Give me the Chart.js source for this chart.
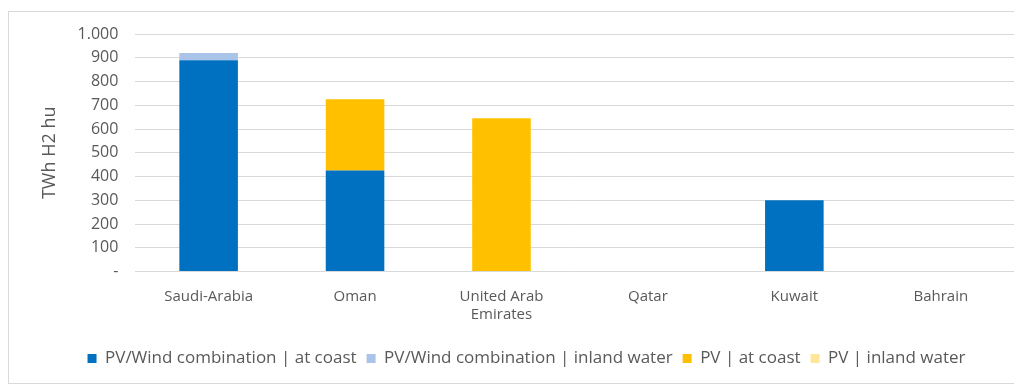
<!DOCTYPE html>
<html>
<head>
<meta charset="utf-8">
<script src="https://cdn.jsdelivr.net/npm/chart.js@4"></script>
<style>
  body { margin: 0; background: #fff; }
  #wrap { position: relative; width: 1014px; height: 384px; }
  #frame { position: absolute; left: 8px; top: 11px; width: 1010px; height: 371px; border: 1px solid #d9d9d9; pointer-events: none; }
</style>
</head>
<body>
<div id="wrap">
  <canvas id="myChart" width="1014" height="384"></canvas>
  <div id="frame"></div>
</div>
<script>
// categories and series
var countries = ['Saudi-Arabia', 'Oman', ['United Arab', 'Emirates'], 'Qatar', 'Kuwait', 'Bahrain']
var windCoast = [890, 425, 0, 0, 300, 0]
var windInland = [30, 0, 0, 0, 0, 0]
var pvCoast = [0, 300, 645, 0, 0, 0]
var pvInland = [0, 0, 0, 0, 0, 0]

var textColor = '#595959'
var font = 'Open Sans'

function thousands(v) {
  if (v === 0) return '-'
  return v.toString().replace(/\B(?=(\d{3})+(?!\d))/g, '.')
}

var ctx = document.getElementById('myChart').getContext('2d')
var chart = new Chart(ctx, {
  type: 'bar',
  data: {
    labels: countries,
    datasets: [
      { label: 'PV/Wind combination | at coast', data: windCoast, backgroundColor: '#0070C0' },
      { label: 'PV/Wind combination | inland water', data: windInland, backgroundColor: '#A9C4E8' },
      { label: 'PV | at coast', data: pvCoast, backgroundColor: '#FFC000' },
      { label: 'PV | inland water', data: pvInland, backgroundColor: '#FFE699' }
    ]
  },
  options: {
    responsive: false,
    animation: false,
    layout: { padding: { left: 39, top: 34, right: 0, bottom: 7 } },
    datasets: { bar: { categoryPercentage: 1, barPercentage: 0.4 } },
    scales: {
      x: {
        stacked: true,
        grid: { display: false },
        border: { display: false },
        ticks: { color: textColor, font: { family: font, size: 15 }, padding: 8, maxRotation: 0 }
      },
      y: {
        stacked: true,
        min: 0,
        max: 1000,
        grid: { color: '#d9d9d9', drawTicks: false },
        border: { display: false },
        ticks: { stepSize: 100, color: textColor, font: { family: font, size: 16 }, padding: 17, callback: thousands },
        title: { display: true, text: 'TWh H2 hu', color: textColor, font: { family: font, size: 18 }, padding: 0 }
      }
    },
    plugins: {
      legend: {
        position: 'bottom',
        // empty title only to add some space above the legend
        title: { display: true, text: ' ', font: { size: 7 }, padding: 0 },
        labels: { color: textColor, font: { family: font, size: 17 }, boxWidth: 9, boxHeight: 9, padding: 10 }
      },
      tooltip: { enabled: false }
    }
  }
})
</script>
</body>
</html>
